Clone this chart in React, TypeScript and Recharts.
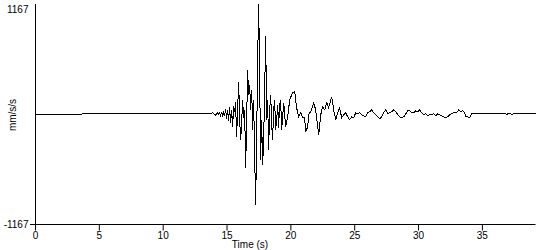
import { LineChart, Line, XAxis, YAxis } from "recharts";

// acceleration trace, [time (s), mm/s/s]
const preEvent: [number, number][] = [
  [0, -5], [3.6, -5], [3.66, 5], [5.0, 8], [6.2, 3], [7.5, 10], [8.8, 4],
  [10.0, 9], [11.3, 3], [12.5, 10], [13.4, 6], [13.9, 14], [14.1, -8], [14.25, 12],
];

const strongMotion: [number, number][] = [
  [14.34, 0], [14.42, 16], [14.5, -16], [14.58, 27], [14.66, -27], [14.73, 16],
  [14.81, -16], [14.89, 58], [14.97, -48], [15.05, 48], [15.13, -69], [15.2, 80],
  [15.28, -90], [15.36, 48], [15.44, -133], [15.52, 90], [15.6, 27], [15.67, 133],
  [15.75, -239], [15.83, 48], [15.91, 345], [15.99, -58], [16.07, -271], [16.14, -111],
  [16.22, 154], [16.3, -37], [16.38, 48], [16.46, -570], [16.54, -58], [16.61, 472],
  [16.69, 207], [16.77, 313], [16.85, 48], [16.93, 260], [17.01, -164], [17.08, 154],
  [17.16, -377], [17.24, -960], [17.32, -271], [17.4, 578], [17.48, 1162], [17.55, 472],
  [17.63, -483], [17.71, -58], [17.79, -536], [17.87, -271], [17.95, 260], [18.03, 833],
  [18.1, -58], [18.18, 154], [18.26, -377], [18.34, 48], [18.42, 207], [18.5, -111],
  [18.57, -271], [18.65, 48], [18.73, 154], [18.81, -164], [18.89, -58], [18.97, 101],
  [19.04, -143], [19.12, 101], [19.2, 154], [19.28, -164], [19.44, 122], [19.59, -133],
  [19.75, -27], [19.91, 154], [20.14, 228], [20.3, 239], [20.45, 69], [20.61, -27],
  [20.77, 16], [20.92, -37], [21.08, -37], [21.16, -186], [21.32, -133], [21.39, -5],
  [21.55, 27], [21.79, 122], [21.94, 48], [22.18, -218], [22.34, -5], [22.49, 80],
  [22.65, 48], [22.81, 122], [22.96, 69], [23.2, 186], [23.35, 48], [23.51, -58],
  [23.67, 16], [23.82, 69], [23.98, -37],
];

const coda: [number, number][] = [
  [24.14, -5], [24.29, 16], [24.45, -27], [24.61, -58], [24.76, -27], [24.92, -37],
  [25.08, 16], [25.24, 5], [25.39, 16], [25.55, -5], [25.71, -16], [25.86, -27],
  [26.02, 16], [26.18, 27], [26.33, 48], [26.49, 16], [26.65, -5], [26.8, -27],
  [26.96, -48], [27.12, -27], [27.27, 16], [27.43, 48], [27.59, 5], [27.74, 16],
  [27.9, 27], [28.06, 48], [28.21, 27], [28.37, -5], [28.53, -27], [28.68, -37],
  [28.84, -27], [29.0, 5], [29.15, 37], [29.31, 37], [29.47, 16], [29.62, 16],
  [29.78, 37], [29.94, 27], [30.09, 48], [30.25, 16], [30.41, -5], [30.56, 5],
  [30.72, -16], [30.88, -5], [31.03, -5], [31.19, 5], [31.35, -16], [31.5, 5],
  [31.66, -5], [31.82, -16], [31.97, -27], [32.13, -37], [32.29, -27], [32.45, -5],
  [32.6, 5], [32.76, 16], [32.92, 16], [33.07, 27], [33.15, 48], [33.31, 27],
  [33.46, 37], [33.62, 16], [33.7, -27], [33.86, -27], [34.01, -37], [34.17, 5],
];

const postEvent: [number, number][] = [
  [34.25, 3], [36.5, 3], [36.7, 8], [36.9, 0], [37.1, 8], [37.3, 0], [37.5, 6],
  [37.7, 3], [39.16, 3],
];

const timeTicks = [0, 5, 10, 15, 20, 25, 30, 35];
const accelTicks = [-1167, 1167];

const data = [...preEvent, ...strongMotion, ...coda, ...postEvent].map(([t, a]) => ({ t, a }));

const font = "'Liberation Sans', Arial, sans-serif";

// only the lower limit carries a tick mark in the original
function AccelTick(props: any) {
  const { x, y, payload } = props;
  return (
    <g>
      {payload.value < 0 && (
        <line x1={x + 1} y1={y} x2={x + 7} y2={y} stroke="#000" shapeRendering="crispEdges" />
      )}
      <text x={x} y={y} dy="0.355em" textAnchor="end" fontSize={10} fill="#000">
        {payload.value}
      </text>
    </g>
  );
}

function App() {
  return (
    <div style={{ position: "absolute", left: 0, top: 0, background: "#fff" }}>
      <LineChart
        width={550}
        height={250}
        data={data}
        margin={{ top: 4, right: 14.5, left: 0, bottom: 0 }}
        style={{ fontFamily: font }}
      >
        <XAxis
          dataKey="t"
          type="number"
          domain={[0, 39.16]}
          ticks={timeTicks}
          height={25.5}
          tickSize={6}
          tickMargin={1}
          stroke="#000"
          tick={{ fill: "#000", fontSize: 10 }}
          label={{
            content: () => (
              <text x={250} y={248} textAnchor="middle" fontSize={10} fill="#000">
                Time (s)
              </text>
            ),
          }}
        />
        <YAxis
          type="number"
          domain={[-1167, 1167]}
          ticks={accelTicks}
          width={35.5}
          tickSize={6}
          tickMargin={1}
          tickLine={false}
          stroke="#000"
          tick={<AccelTick />}
          label={{
            content: () => (
              <text
                x={12}
                y={115}
                transform="rotate(-90, 12, 115)"
                textAnchor="middle"
                dominantBaseline="central"
                fontSize={10}
                fill="#000"
              >
                mm/s/s
              </text>
            ),
          }}
        />
        <Line
          type="linear"
          dataKey="a"
          stroke="#000"
          strokeWidth={1}
          dot={false}
          shapeRendering="crispEdges"
          isAnimationActive={false}
        />
      </LineChart>
    </div>
  );
}

export default App;
